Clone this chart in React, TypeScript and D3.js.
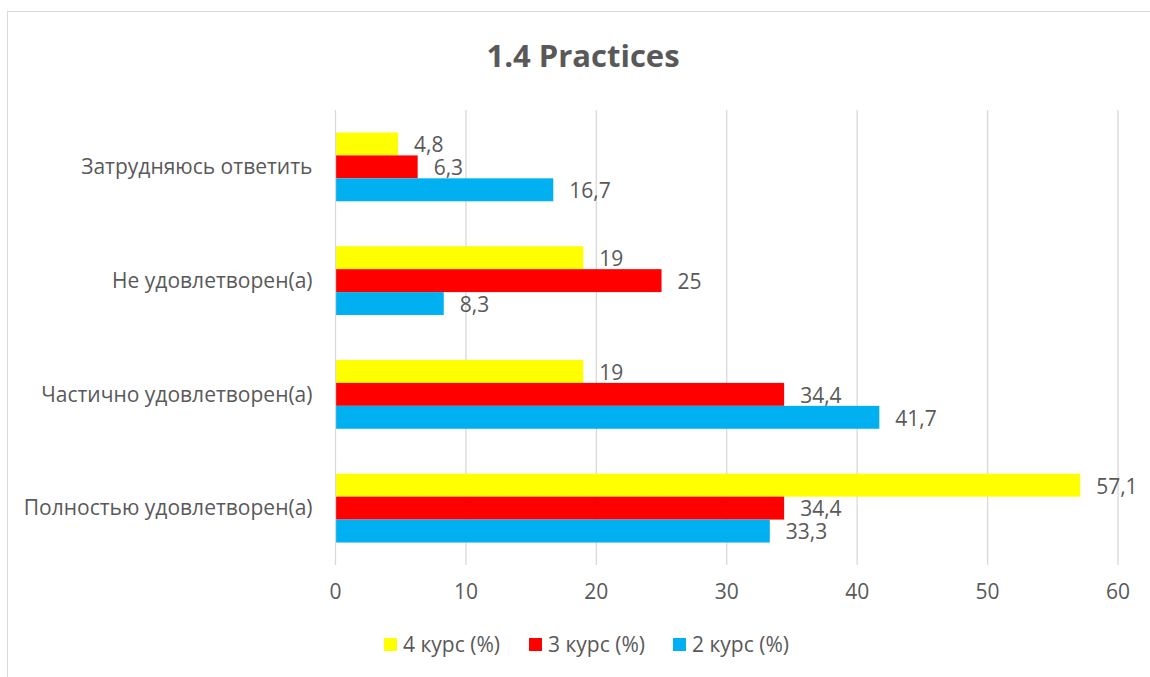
import { useEffect, useRef } from "react"
import * as d3 from "d3"

const categories = [
    "Затрудняюсь ответить",
    "Не удовлетворен(а)",
    "Частично удовлетворен(а)",
    "Полностью удовлетворен(а)",
]
const seriesNames = ["4 курс (%)", "3 курс (%)", "2 курс (%)"]
const seriesColors = ["#FFFF00", "#FF0000", "#00B0F0"]
const course4 = [4.8, 19, 19, 57.1]
const course3 = [6.3, 25, 34.4, 34.4]
const course2 = [16.7, 8.3, 41.7, 33.3]
const xTicks = [0, 10, 20, 30, 40, 50, 60]

const fontFamily = "'Open Sans', 'Noto Sans', sans-serif"
const textColor = "#595959"
const labelSize = "21px"

export default function App() {
    const svgRef = useRef<SVGSVGElement | null>(null)

    useEffect(() => {
        if (!svgRef.current) return
        const width = 1150
        const height = 677
        const margin = { top: 110, right: 32, bottom: 112, left: 335.5 }
        const innerWidth = width - margin.left - margin.right
        const innerHeight = height - margin.top - margin.bottom

        const svg = d3.select(svgRef.current)
        svg.selectAll("*").remove()

        // chart border
        svg.append("rect")
            .attr("x", 7.5)
            .attr("y", 11.5)
            .attr("width", 1160)
            .attr("height", 700)
            .attr("fill", "#fff")
            .attr("stroke", "#D9D9D9")

        svg.append("text")
            .attr("x", 583)
            .attr("y", 67)
            .attr("text-anchor", "middle")
            .attr("font-family", fontFamily)
            .attr("font-size", "31px")
            .attr("font-weight", "bold")
            .attr("fill", textColor)
            .text("1.4 Practices")

        const g = svg.append("g").attr("transform", `translate(${margin.left},${margin.top})`)

        const xScale = d3.scaleLinear().domain([0, 60]).range([0, innerWidth])
        const yScale = d3.scaleBand<string>().domain(categories).range([0, innerHeight]).paddingInner(0).paddingOuter(0)
        const inner = d3.scaleBand<number>().domain([0, 1, 2]).range([0, yScale.bandwidth()]).paddingInner(0).paddingOuter(0.98)

        // gridlines
        g.append("g")
            .selectAll("line")
            .data(xTicks.slice(1))
            .enter()
            .append("line")
            .attr("x1", (d) => xScale(d))
            .attr("x2", (d) => xScale(d))
            .attr("y1", 0)
            .attr("y2", innerHeight)
            .attr("stroke", "#D9D9D9")
            .attr("stroke-width", 1.3)

        // x tick labels
        g.append("g")
            .selectAll("text")
            .data(xTicks)
            .enter()
            .append("text")
            .attr("x", (d) => xScale(d))
            .attr("y", innerHeight + 27)
            .attr("dy", "0.35em")
            .attr("text-anchor", "middle")
            .attr("font-family", fontFamily)
            .attr("font-size", labelSize)
            .attr("fill", textColor)
            .text((d) => d)

        const series = [course4, course3, course2]
        const fmt = (v: number) => String(v).replace(".", ",")

        series.forEach((values, si) => {
            const sg = g.append("g")
            sg.selectAll("rect")
                .data(values)
                .enter()
                .append("rect")
                .attr("x", 0)
                .attr("y", (_, i) => yScale(categories[i])! + inner(si)!)
                .attr("width", (d) => xScale(d))
                .attr("height", inner.bandwidth())
                .attr("fill", seriesColors[si])
            sg.selectAll("text")
                .data(values)
                .enter()
                .append("text")
                .attr("x", (d) => xScale(d) + 16)
                .attr("y", (_, i) => yScale(categories[i])! + inner(si)! + inner.bandwidth() / 2 + 1)
                .attr("dy", "0.35em")
                .attr("font-family", fontFamily)
                .attr("font-size", labelSize)
                .attr("fill", textColor)
                .text((d) => fmt(d))
        })

        // category axis
        g.append("line")
            .attr("x1", 0)
            .attr("x2", 0)
            .attr("y1", 0)
            .attr("y2", innerHeight)
            .attr("stroke", "#D9D9D9")
            .attr("stroke-width", 1.3)

        g.append("g")
            .selectAll("text")
            .data(categories)
            .enter()
            .append("text")
            .attr("x", -23)
            .attr("y", (d) => yScale(d)! + yScale.bandwidth() / 2)
            .attr("dy", "0.35em")
            .attr("text-anchor", "end")
            .attr("font-family", fontFamily)
            .attr("font-size", labelSize)
            .attr("fill", textColor)
            .text((d) => d)

        // legend
        const legendX = [384, 529, 673]
        const legend = svg.append("g")
        seriesNames.forEach((name, i) => {
            legend.append("rect")
                .attr("x", legendX[i])
                .attr("y", 638)
                .attr("width", 13)
                .attr("height", 13)
                .attr("fill", seriesColors[i])
            legend.append("text")
                .attr("x", legendX[i] + 19)
                .attr("y", 645)
                .attr("dy", "0.35em")
                .attr("font-family", fontFamily)
                .attr("font-size", labelSize)
                .attr("fill", textColor)
                .text(name)
        })
    }, [])

    return (
        <div style={{ position: "absolute", left: 0, top: 0 }}>
            <svg ref={svgRef} width={1150} height={677} />
        </div>
    )
}
